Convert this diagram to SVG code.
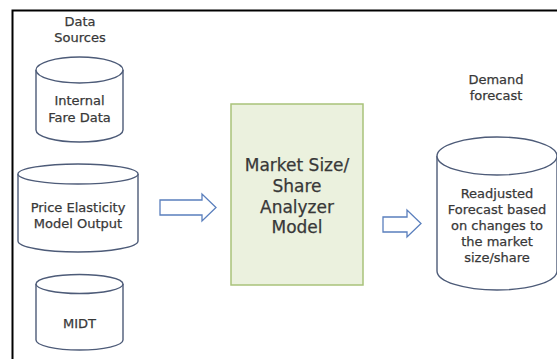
<svg xmlns="http://www.w3.org/2000/svg" width="557" height="359" viewBox="0 0 557 359">
<style>
.cyl{fill:#ffffff;stroke:#4d5b78;stroke-width:1.4}
.t{font-family:"DejaVu Sans",Verdana,sans-serif;font-size:13px;fill:#383838;stroke:#383838;stroke-width:0.25;text-anchor:middle}
.big{font-size:17px}
.arr{fill:#ffffff;stroke:#5a7fbd;stroke-width:1.3}
</style>
<rect width="557" height="359" fill="#ffffff"/>
<path d="M12.5,359 L12.5,10.5 L557,10.5" fill="none" stroke="#000000" stroke-width="2"/>
<g id="label-data-sources">
<text class="t" x="80" y="26">Data</text>
<text class="t" x="80" y="42">Sources</text>
</g>
<g id="internal-fare-data">
<path class="cyl" d="M36,70 L36,130 A43.5,12 0 0 0 123,130 L123,70"/>
<ellipse class="cyl" cx="79.5" cy="70" rx="43.5" ry="13"/>
<text class="t" x="79.5" y="105">Internal</text>
<text class="t" x="79.5" y="122">Fare Data</text>
</g>
<g id="price-elasticity">
<path class="cyl" d="M18,174 L18,241 A60,11 0 0 0 138,241 L138,174"/>
<ellipse class="cyl" cx="78" cy="174" rx="60" ry="10"/>
<text class="t" x="78" y="212">Price Elasticity</text>
<text class="t" x="78" y="228">Model Output</text>
</g>
<g id="midt">
<path class="cyl" d="M36,284 L36,340 A43.5,10 0 0 0 123,340 L123,284"/>
<ellipse class="cyl" cx="79.5" cy="284" rx="43.5" ry="9.5"/>
<text class="t" x="79.5" y="328">MIDT</text>
</g>
<g id="connectors">
<polygon class="arr" points="160,200 202,200 202,194 216,207.5 202,221 202,215 160,215"/>
<polygon class="arr" points="383,217 407,217 407,210 421,223.5 407,237 407,232 383,232"/>
</g>
<g id="market-model">
<rect x="231" y="104" width="132" height="181" fill="#ebf1de" stroke="#a9c27a" stroke-width="1.5"/>
<text class="t big" x="297" y="171">Market Size/</text>
<text class="t big" x="297" y="192">Share</text>
<text class="t big" x="297" y="213">Analyzer</text>
<text class="t big" x="297" y="233">Model</text>
</g>
<g id="label-demand-forecast">
<text class="t" x="496" y="84">Demand</text>
<text class="t" x="496" y="100">forecast</text>
</g>
<g id="readjusted-forecast">
<path class="cyl" d="M437,156 L437,271 A60,19 0 0 0 557,271 L557,156"/>
<ellipse class="cyl" cx="497" cy="156" rx="60" ry="19"/>
<text class="t" x="497" y="198">Readjusted</text>
<text class="t" x="497" y="214">Forecast based</text>
<text class="t" x="497" y="230">on changes to</text>
<text class="t" x="497" y="246">the market</text>
<text class="t" x="497" y="262">size/share</text>
</g>
</svg>
